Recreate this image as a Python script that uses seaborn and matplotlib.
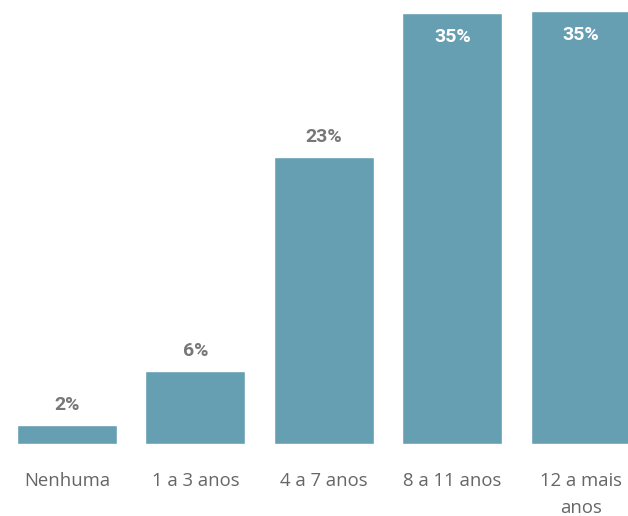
import matplotlib
matplotlib.use("Agg")
import matplotlib.pyplot as plt
import seaborn as sns
import pandas as pd

categories = ["Nenhuma", "1 a 3 anos", "4 a 7 anos", "8 a 11 anos", "12 a mais\nanos"]
values = [1.5, 5.9, 23.2, 34.9, 35.1]
value_labels = ["2%", "6%", "23%", "35%", "35%"]
inside = [False, False, False, True, True]

sns.set_theme(style="white")
plt.rcParams['font.family'] = ['Open Sans', 'DejaVu Sans']

df = pd.DataFrame({"cat": categories, "val": values})

fig = plt.figure(figsize=(6.28, 5.16), dpi=100)
ax = fig.add_axes([0, 1 - 444/516, 1, 444/516])
sns.barplot(data=df, x="cat", y="val", color="#669fb2", saturation=1, width=0.778, ax=ax)

ax.set_xlim(-0.521, 4.366)
ax.set_ylim(0, 444/12.35)
for s in ax.spines.values():
    s.set_visible(False)
ax.set_yticks([])
ax.set_xlabel("")
ax.set_ylabel("")
ax.tick_params(axis="x", length=0, pad=20.5, labelsize=13.3, labelcolor="#666666")
for t in ax.get_xticklabels():
    t.set_linespacing(1.6)

for i, (v, lab, ins) in enumerate(zip(values, value_labels, inside)):
    if ins:
        ax.annotate(lab, (i, v), xytext=(0, -17.5), textcoords="offset points",
                    ha="center", va="center", color="white", fontsize=14,
                    fontweight="bold", family="Roboto")
    else:
        ax.annotate(lab, (i, v), xytext=(0, 14.5), textcoords="offset points",
                    ha="center", va="center", color="#777777", fontsize=14,
                    fontweight="bold", family="Roboto")

fig.savefig("out.png", dpi=100)
